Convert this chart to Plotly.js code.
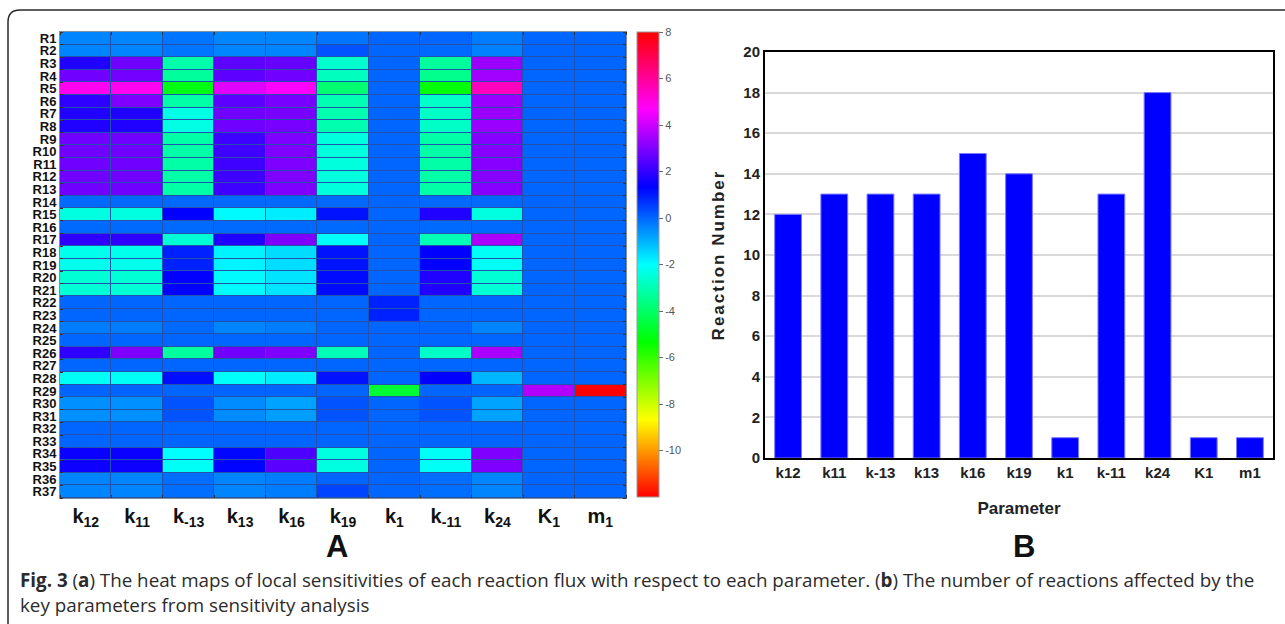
<!DOCTYPE html>
<html><head><meta charset="utf-8">
<script src="https://cdn.plot.ly/plotly-3.0.1.min.js"></script>
<style>
html,body{margin:0;padding:0;background:#fff;}
#chart{width:1285px;height:624px;}
.y2title{letter-spacing:2px;}
</style>
</head><body><div id="chart"></div>
<script>
// ---------- data ----------
const heatColumnLabels = ['k<sub>12</sub>','k<sub>11</sub>','k<sub>-13</sub>','k<sub>13</sub>','k<sub>16</sub>','k<sub>19</sub>','k<sub>1</sub>','k<sub>-11</sub>','k<sub>24</sub>','K<sub>1</sub>','m<sub>1</sub>'];
const reactionLabels = ['R1','R2','R3','R4','R5','R6','R7','R8','R9','R10','R11','R12','R13','R14','R15','R16','R17','R18','R19','R20','R21','R22','R23','R24','R25','R26','R27','R28','R29','R30','R31','R32','R33','R34','R35','R36','R37'];
// local sensitivities: one row per reaction, columns follow heatColumnLabels
const sensitivity = [
  [-0.4,-0.4,-0.2,-0.4,-0.4,-0.2,0,0,-0.3,0,0],
  [-0.4,-0.4,-0.2,-0.4,-0.4,0.25,0,-0.05,-0.35,0,0],
  [1.75,2.8,-3.1,2.55,2.65,-2.65,0,-3.3,3.35,0,0],
  [2.8,2.85,-3.3,2.55,2.8,-2.85,0,-3.5,3.45,0,0],
  [4.85,4.85,-5.1,4.25,4.65,-3.9,0,-5.2,5.5,0,0],
  [1.95,3.0,-3.15,2.55,2.9,-3.0,0,-2.7,3.35,0,0],
  [1.75,1.75,-2.35,2.8,2.9,-3.05,0,-2.75,3.35,0,0],
  [1.75,1.75,-2.35,2.8,2.9,-3.05,0,-2.75,3.35,0,0],
  [2.8,2.8,-3.15,2.15,3.0,-2.45,0,-3.15,3.1,0,0],
  [2.8,2.8,-3.15,2.15,3.0,-2.45,0,-3.15,3.1,0,0],
  [2.8,2.8,-3.15,2.15,3.0,-2.45,0,-3.15,3.1,0,0],
  [2.8,2.8,-3.15,2.15,3.0,-2.45,0,-3.15,3.1,0,0],
  [2.8,2.8,-3.15,2.15,3.0,-2.45,0,-3.15,3.1,0,0],
  [-0.05,-0.05,-0.05,-0.05,-0.05,-0.05,0,-0.05,-0.05,0,0],
  [-2.4,-2.4,1.35,-1.95,-1.75,1.1,0,1.75,-2.4,0,0],
  [-0.05,-0.05,-0.05,-0.05,-0.05,-0.05,0,-0.05,-0.05,0,0],
  [1.95,1.95,-2.55,1.75,3.0,-2.05,0,-2.95,3.55,0,0],
  [-2.25,-2.25,0.9,-1.85,-1.55,1.1,0,1.35,-2.1,0,0],
  [-2.25,-2.25,0.9,-1.85,-1.55,1.1,0,1.35,-2.1,0,0],
  [-2.55,-2.55,1.35,-1.95,-1.65,1.2,0,1.75,-2.55,0,0],
  [-2.55,-2.55,1.35,-1.95,-1.65,1.2,0,1.75,-2.55,0,0],
  [0,0,0,0,0,0,0.9,0,0,0,0],
  [0,0,0,0,0,0,0.9,0,0,0,0],
  [-0.3,-0.3,-0.05,-0.4,-0.3,0,0,0,-0.4,0,0],
  [0,0,0,0,0,0,0,0,0,0,0],
  [1.95,3.0,-3.25,2.8,3.0,-2.95,0,-2.75,3.55,0,0],
  [0,0,0,0,0,0,0,0,0,0,0],
  [-2.1,-2.1,1.15,-2.05,-1.75,1.1,0,1.35,-1.05,0,0],
  [0,0,0,0,0,0,-4.65,0,0,3.65,8],
  [-0.55,-0.55,0.25,-0.5,-0.8,0.25,0,0.25,-0.8,0,0],
  [-0.55,-0.55,0.25,-0.5,-0.75,0.25,0,0.25,-0.8,0,0],
  [0,0,0,0,0,0,0,0,0,0,0],
  [0,0,0,0,0,0,0,0,0,0,0],
  [1.45,1.45,-2.0,1.25,2.35,-2.4,0,-2.1,3.0,0,0],
  [1.5,1.5,-2.1,1.3,2.5,-2.4,0,-2.1,3.0,0,0],
  [-0.4,-0.4,-0.1,-0.4,-0.3,0,0,-0.1,-0.4,0,0],
  [-0.4,-0.4,-0.1,-0.4,-0.3,0.45,0,-0.1,-0.4,0,0]
];
const colorbarTickVals = [-10,-8,-6,-4,-2,0,2,4,6,8];
const colorbarTickText = ['-10','-8','-6','-4','-2','0','2','4','6','8'];

const parameters = ['k12','k11','k-13','k13','k16','k19','k1','k-11','k24','K1','m1'];
const reactionCounts = [12,13,13,13,15,14,1,13,18,1,1];
const countTicks = [0,2,4,6,8,10,12,14,16,18,20];

// ---------- layout helpers ----------
const W = 1285, H = 624;
const fx = v => v / W;
const fy = v => 1 - v / H;
const FONT = 'Liberation Sans, Arial, sans-serif';
const NARROW = 'Liberation Sans Narrow, Liberation Sans, Arial, sans-serif';

const colIdx = heatColumnLabels.map((_, i) => i);
const rowIdx = reactionLabels.map((_, i) => i);

const hsv = [
  [0, '#ff0000'], [1/6, '#ffff00'], [2/6, '#00ff00'], [3/6, '#00ffff'],
  [4/6, '#0000ff'], [5/6, '#ff00ff'], [1, '#ff0000']
];

const heat = {
  type: 'heatmap', x: colIdx, y: rowIdx, z: sensitivity,
  xaxis: 'x', yaxis: 'y',
  zmin: -12, zmax: 8, colorscale: hsv, xgap: 1, ygap: 1,
  hoverongaps: false,
  colorbar: {
    x: fx(637), xanchor: 'left', y: fy(32), yanchor: 'top',
    len: (497 - 32) / H, lenmode: 'fraction', thickness: 22,
    xpad: 0, ypad: 0, outlinewidth: 1, outlinecolor: '#9a9a9a',
    tickmode: 'array', tickvals: colorbarTickVals, ticktext: colorbarTickText,
    ticks: 'outside', ticklen: 4, tickcolor: '#666',
    tickfont: {family: FONT, size: 11, color: '#555'}
  }
};

const bars = {
  type: 'bar', x: parameters, y: reactionCounts, xaxis: 'x2', yaxis: 'y2',
  width: 0.58,
  marker: {color: '#0000ff', line: {color: '#7a7aff', width: 1}},
  showlegend: false
};

const layout = {
  width: W, height: H,
  margin: {l: 0, r: 0, t: 0, b: 0},
  paper_bgcolor: '#ffffff', plot_bgcolor: 'rgba(0,0,0,0)',
  showlegend: false,
  font: {family: FONT, color: '#111'},
  xaxis: {
    domain: [fx(60), fx(626)], anchor: 'y',
    range: [-0.5, 10.5], tickmode: 'array', tickvals: colIdx, ticktext: heatColumnLabels,
    ticks: '', showgrid: false, zeroline: false,
    showline: true, mirror: 'ticks', linecolor: '#7f8f9f', linewidth: 1,
    minor: {ticks: 'inside', tickmode: 'linear', tick0: 0.5, dtick: 1, ticklen: 3, tickcolor: '#333', showgrid: false},
    tickfont: {family: FONT, size: 20, weight: 700, color: '#111'}
  },
  yaxis: {
    domain: [fy(498), fy(32)], anchor: 'x',
    range: [36.5, -0.5], tickmode: 'array', tickvals: rowIdx, ticktext: reactionLabels,
    ticks: '', showgrid: false, zeroline: false,
    showline: true, mirror: 'ticks', linecolor: '#7f8f9f', linewidth: 1,
    minor: {ticks: 'inside', tickmode: 'linear', tick0: 0.5, dtick: 1, ticklen: 3, tickcolor: '#333', showgrid: false},
    tickfont: {family: NARROW, size: 13, weight: 700, color: '#111'}
  },
  xaxis2: {
    domain: [fx(765), fx(1273)], anchor: 'y2', type: 'category',
    showline: true, mirror: true, linecolor: '#000', linewidth: 2,
    ticks: '', showgrid: false, zeroline: false,
    tickfont: {family: FONT, size: 15, weight: 700, color: '#222'},
    title: {text: 'Parameter', standoff: 22, font: {family: FONT, size: 17, weight: 700, color: '#222'}}
  },
  yaxis2: {
    domain: [fy(458), fy(52)], anchor: 'x2',
    range: [0, 20], tickmode: 'array', tickvals: countTicks,
    showline: true, mirror: true, linecolor: '#000', linewidth: 2,
    ticks: '', showgrid: true, gridcolor: '#d9d9d9', gridwidth: 2, zeroline: false,
    tickfont: {family: FONT, size: 15, weight: 700, color: '#222'},
    title: {text: 'Reaction Number', standoff: 14, font: {family: FONT, size: 17, weight: 700, color: '#222'}}
  },
  shapes: [
    // dark backing that shows through the cell gaps of the heat map
    {type: 'rect', xref: 'x domain', yref: 'y domain', x0: 0, x1: 1, y0: 0, y1: 1,
     fillcolor: '#2352ac', line: {width: 0}, layer: 'below'},
    // rounded figure frame
    {type: 'path', xref: 'paper', yref: 'paper', layer: 'above',
     path: `M ${fx(8)},-0.02 L ${fx(8)},${fy(22)} Q ${fx(8)},${fy(10)} ${fx(20)},${fy(10)} L 1.02,${fy(10)}`,
     line: {color: '#2a2a2a', width: 1.5}}
  ],
  annotations: [
    {text: '<b>A</b>', xref: 'paper', yref: 'paper', x: fx(337), y: fy(546), xanchor: 'center', yanchor: 'middle',
     showarrow: false, font: {family: FONT, size: 31, color: '#111'}},
    {text: '<b>B</b>', xref: 'paper', yref: 'paper', x: fx(1024), y: fy(546), xanchor: 'center', yanchor: 'middle',
     showarrow: false, font: {family: FONT, size: 31, color: '#111'}},
    {text: '<b>Fig. 3</b> (<b>a</b>) The heat maps of local sensitivities of each reaction flux with respect to each parameter. (<b>b</b>) The number of reactions affected by the',
     xref: 'paper', yref: 'paper', x: fx(18), y: fy(580), xanchor: 'left', yanchor: 'middle',
     showarrow: false, font: {family: 'Open Sans, sans-serif', size: 18.8, color: '#2b2b2b'}},
    {text: 'key parameters from sensitivity analysis',
     xref: 'paper', yref: 'paper', x: fx(18), y: fy(605), xanchor: 'left', yanchor: 'middle',
     showarrow: false, font: {family: 'Open Sans, sans-serif', size: 18.8, color: '#2b2b2b'}}
  ]
};

Plotly.newPlot('chart', [heat, bars], layout, {displayModeBar: false, staticPlot: true});
</script>
</body></html>
